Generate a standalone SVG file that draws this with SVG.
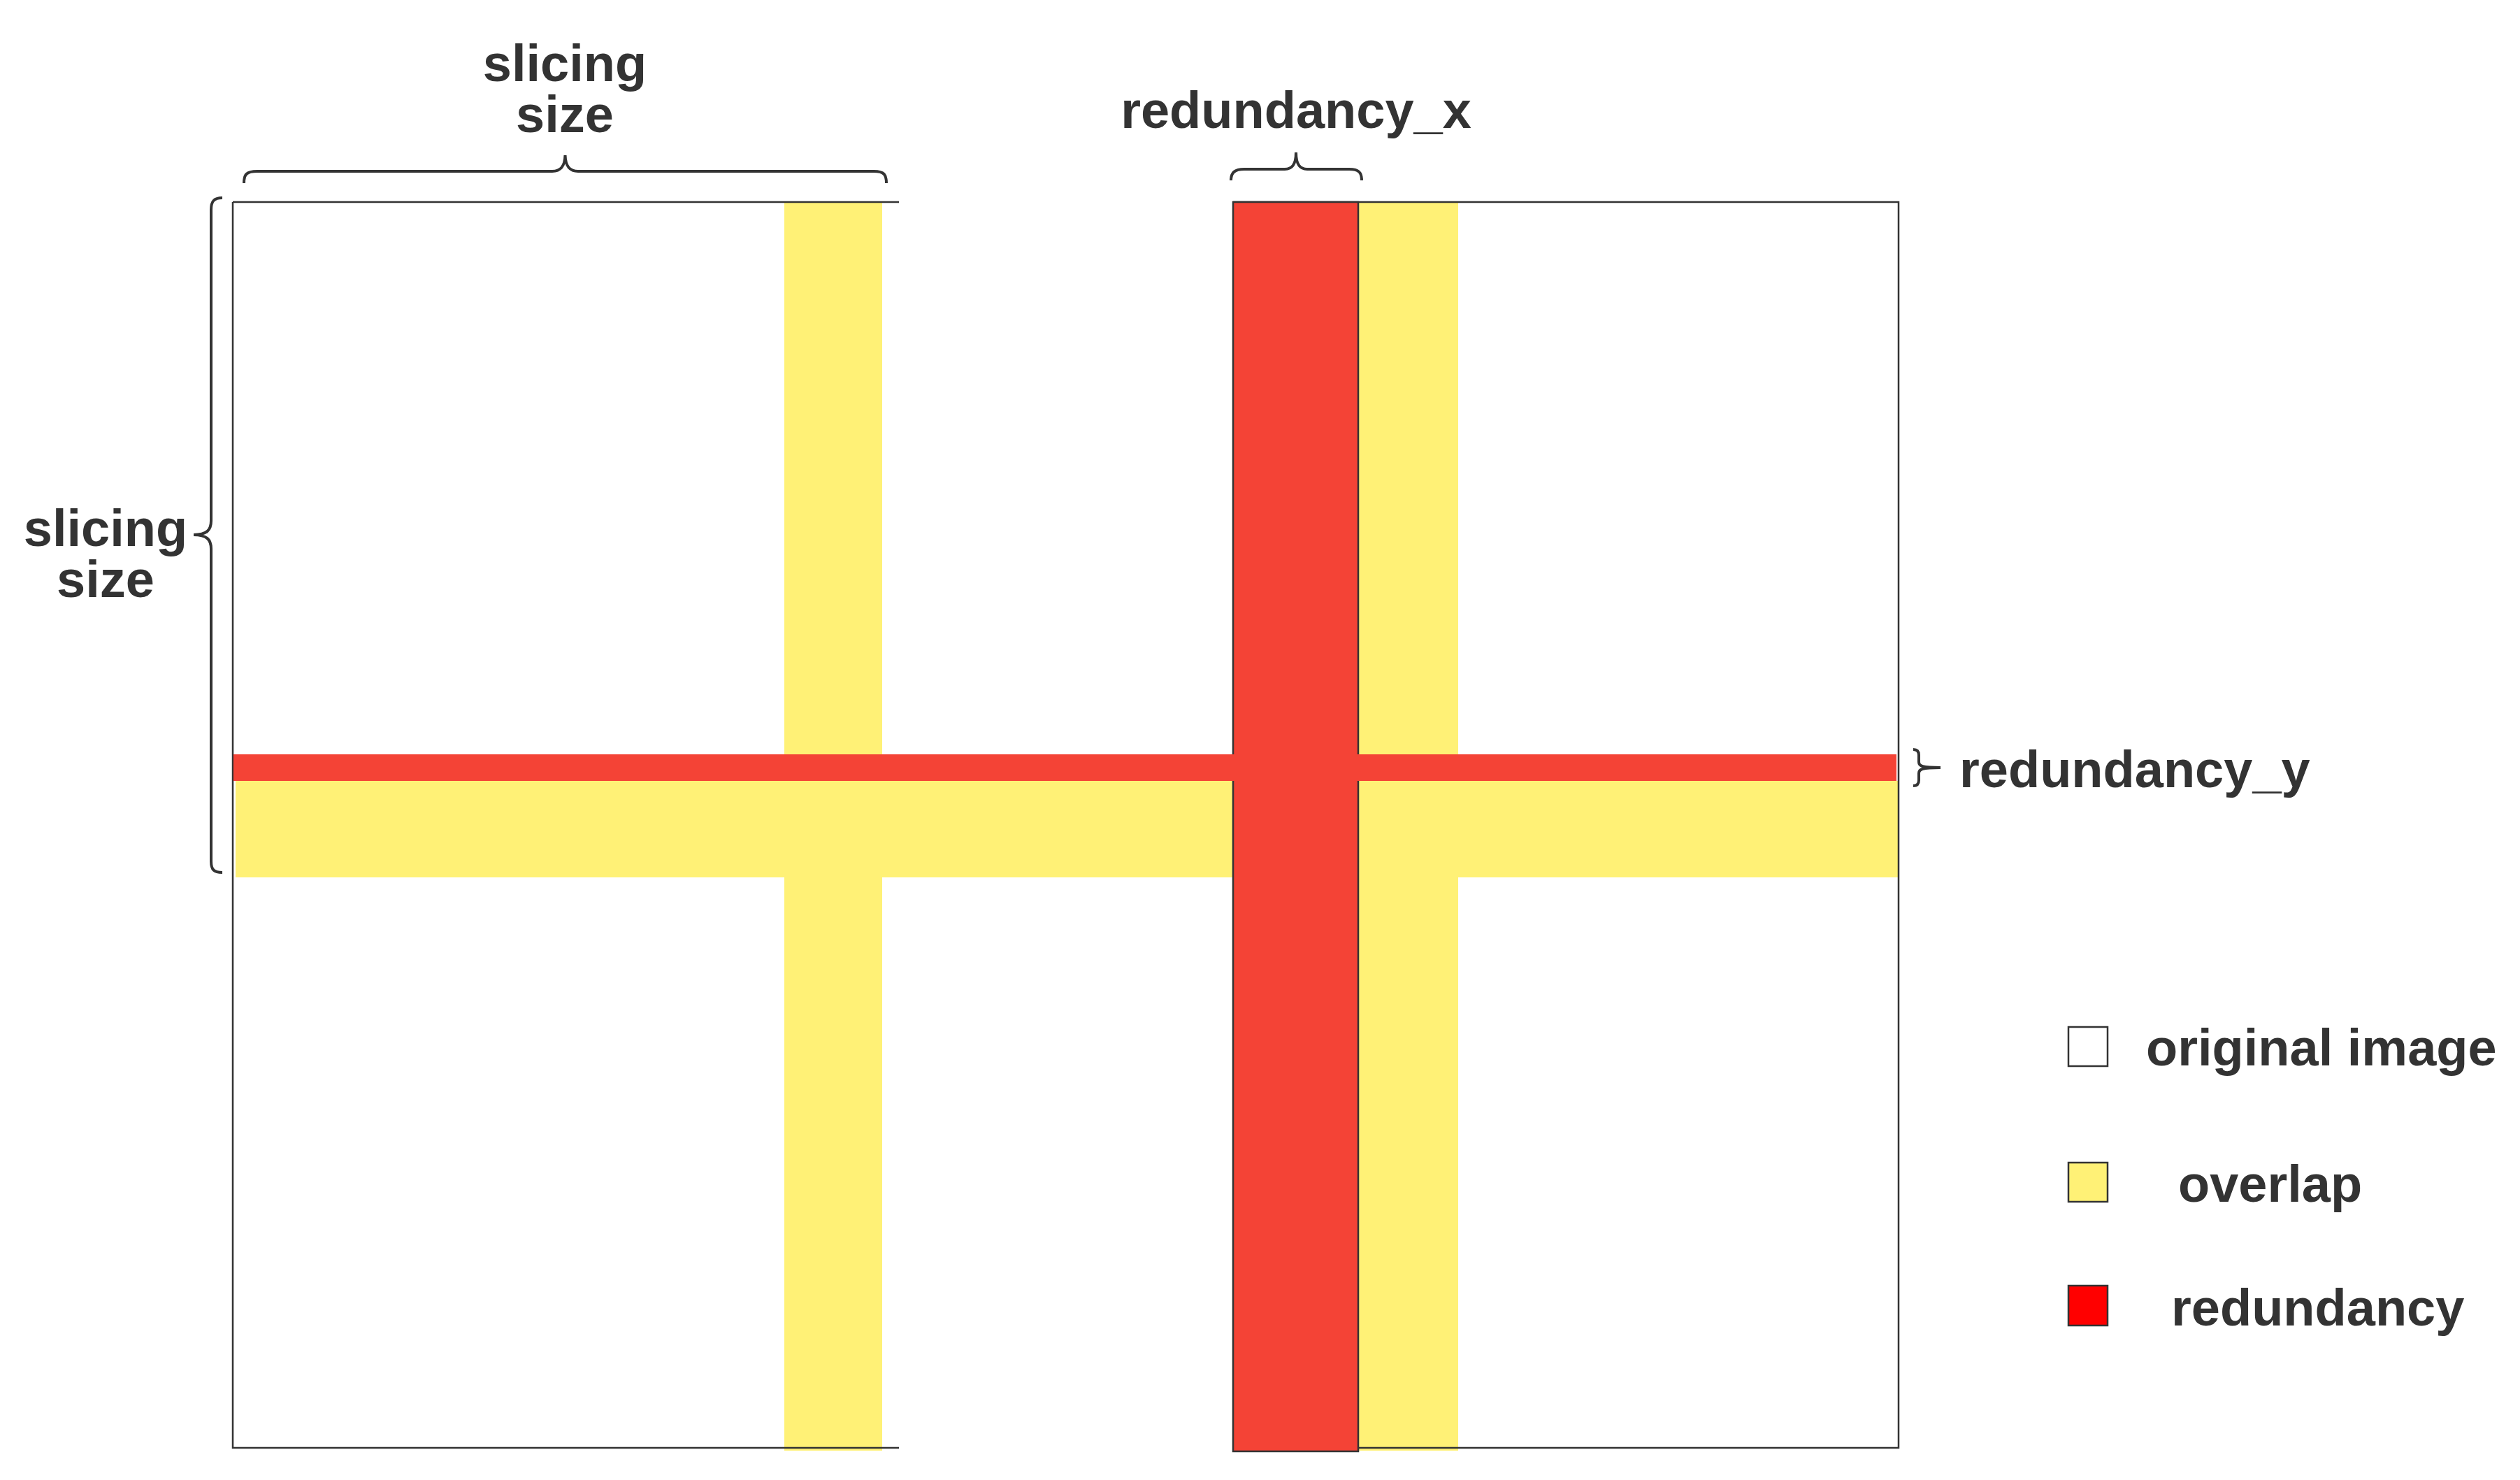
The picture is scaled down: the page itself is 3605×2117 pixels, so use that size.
<svg xmlns="http://www.w3.org/2000/svg" width="3605" height="2117" viewBox="0 0 3605 2117">
<style>
text{font-family:"Liberation Sans",Arial,sans-serif;font-weight:bold;font-size:74px;fill:#333333}
.mid{text-anchor:middle}
.yel{fill:#FFF176}
.red{fill:#F44336}
.edge{stroke:#333333;stroke-width:2.5;fill:none}
.brace{stroke:#333333;stroke-width:4;fill:none;stroke-linecap:butt}
.box{stroke:#333333;stroke-width:2.5}
</style>
<rect width="3605" height="2117" fill="#ffffff"/>
<g id="image">
<rect x="333" y="289" width="2383" height="1782" fill="#ffffff"/>
<rect class="yel" x="1122" y="290" width="140" height="1785"/>
<rect class="yel" x="1943" y="290" width="143" height="1785"/>
<rect class="yel" x="337" y="1117" width="2380" height="138"/>
<path class="edge" d="M333,289 H1286 M1764,289 H2716 V2071 H1764 M1286,2071 H333 V289"/>
<rect class="red" x="1764" y="289" width="179" height="1787" stroke="#333333" stroke-width="2.5"/>
<rect class="red" x="334" y="1079" width="2379" height="38"/>
</g>
<g id="braces">
<path class="brace" d="M349,262 C349,250 352,245 368,245 H790 C802,245 808,238 808.5,222 C809,238 815,245 827,245 H1250 C1265,245 1268,250 1268,262"/>
<path class="brace" d="M1761,258 C1761,247 1766,242 1780,242 H1838 C1848,242 1854,236 1854,218 C1854,236 1860,242 1870,242 H1930 C1944,242 1948,247 1948,258"/>
<path class="brace" d="M318,283 C306,283 302,288 302,300 V745 C302,758 296,765 277,765 C296,765 302,772 302,785 V1232 C302,1244 306,1248 318,1248"/>
<path class="brace" d="M2737,1072 C2743,1072 2745,1075 2745,1080 V1090 C2745,1096 2750,1098 2776,1098 C2750,1098 2745,1100 2745,1106 V1116 C2745,1121 2743,1124 2737,1124"/>
</g>
<g id="labels">
<text class="mid"><tspan x="808" y="116">slicing</tspan><tspan x="808" y="189">size</tspan></text>
<text class="mid" x="1854" y="183">redundancy_x</text>
<text class="mid"><tspan x="151" y="781">slicing</tspan><tspan x="151" y="854">size</tspan></text>
<text x="2803" y="1126">redundancy_y</text>
</g>
<g id="legend">
<g id="legend-original"><rect class="box" x="2959" y="1469" width="56" height="56" fill="#ffffff"/><text x="3070" y="1524">original image</text></g>
<g id="legend-overlap"><rect class="box" x="2959" y="1663" width="56" height="56" fill="#FFF176"/><text x="3116" y="1719">overlap</text></g>
<g id="legend-redundancy"><rect class="box" x="2959" y="1839" width="56" height="57" fill="#FF0000"/><text x="3106" y="1896">redundancy</text></g>
</g>
</svg>
